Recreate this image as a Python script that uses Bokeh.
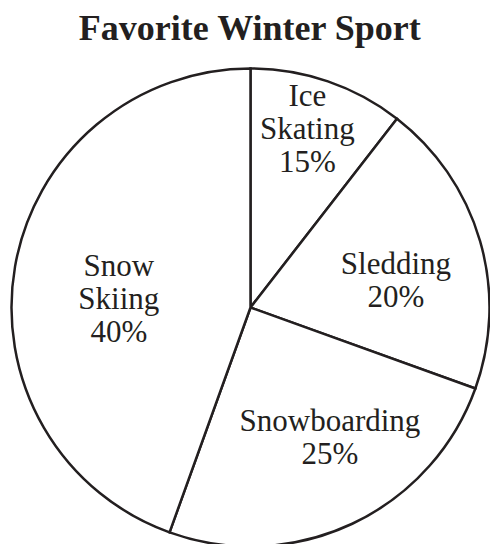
import math
from bokeh.plotting import figure
from bokeh.models import Range1d, ColumnDataSource
from bokeh.core.properties import value
from bokeh.embed import file_html
from bokeh.resources import INLINE

# ---- data ----
title_text = "Favorite Winter Sport"
categories = ["Ice\nSkating", "Sledding", "Snowboarding", "Snow\nSkiing"]
percent_labels = ["15%", "20%", "25%", "40%"]
# slice sizes as drawn in the picture (percent of the circle)
drawn_share = [10.5, 20.0, 25.0, 44.5]

# ---- layout / style ----
W, H = 490, 544
CX, CY, R = 250, -307, 239
INK = "#231f20"
FONT = "Liberation Serif"
LABEL_SIZE = 31
LINE_STEP = 33
# label anchor: distance from centre and nudge of the mid angle (deg)
label_dist = [188, 148, 152, 132]
label_nudge = [-1.3, 5.5, -6.3, -6.0]

p = figure(width=W, height=H, output_backend="svg", toolbar_location=None,
           x_range=Range1d(0, W), y_range=Range1d(-H, 0),
           x_axis_type=None, y_axis_type=None, min_border=0)
p.grid.visible = False
p.outline_line_color = None
p.background_fill_color = "white"
p.border_fill_color = "white"

# wedges (clockwise from top)
starts, ends, mids = [], [], []
acc = 0.0
for s in drawn_share:
    a0 = acc * 3.6
    a1 = (acc + s) * 3.6
    acc += s
    starts.append(math.radians(90 - a1))
    ends.append(math.radians(90 - a0))
    mids.append((a0 + a1) / 2)

src = ColumnDataSource(dict(x=[CX] * len(drawn_share), y=[CY] * len(drawn_share),
                            start=starts, end=ends))
p.wedge(x="x", y="y", radius=R, start_angle="start", end_angle="end",
        direction="anticlock", fill_color="white", line_color=INK,
        line_width=2.5, line_join="miter", source=src)

# labels
tx, ty, tt = [], [], []
for name, pct, mid, d, nd in zip(categories, percent_labels, mids, label_dist, label_nudge):
    lines = name.split("\n") + [pct]
    ang = math.radians(mid + nd)
    ax = CX + d * math.sin(ang)
    ay = CY + d * math.cos(ang)
    n = len(lines)
    for i, ln in enumerate(lines):
        tx.append(ax)
        ty.append(ay - (i - (n - 1) / 2) * LINE_STEP)
        tt.append(ln)

p.text(x=tx, y=ty, text=tt, text_font=value(FONT), text_font_size=f"{LABEL_SIZE}px",
       text_align="center", text_baseline="middle", text_color=INK)

# title
p.text(x=[250], y=[-27], text=[title_text], text_font=value(FONT),
       text_font_size="36px", text_font_style="bold", text_align="center",
       text_baseline="middle", text_color=INK)

open("out.html", "w").write(file_html(p, INLINE))
